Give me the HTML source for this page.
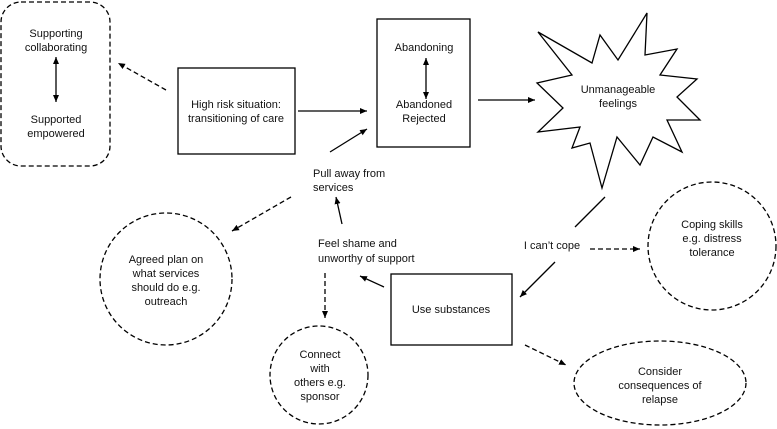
<!DOCTYPE html>
<html><head><style>
body{margin:0;background:#fff}
svg{display:block}
text{font-family:"Liberation Sans",sans-serif;font-size:11px;fill:#111;text-anchor:middle}
</style></head><body>
<svg width="777" height="429" viewBox="0 0 777 429">
<defs>
<marker id="a" markerWidth="8" markerHeight="8" refX="7" refY="4" orient="auto" markerUnits="userSpaceOnUse"><path d="M0,1 L7,4 L0,7Z" fill="#000"/></marker>
<marker id="b" markerWidth="8" markerHeight="8" refX="1" refY="4" orient="auto" markerUnits="userSpaceOnUse"><path d="M8,1 L1,4 L8,7Z" fill="#000"/></marker>
</defs>
<g fill="none" stroke="#000" stroke-width="1.3">
<rect x="1" y="2" width="109" height="164" rx="20" stroke-dasharray="5,3"/>
<rect x="178" y="68" width="117" height="86"/>
<rect x="377" y="19" width="93" height="128"/>
<rect x="391" y="274" width="121" height="71"/>
<polygon points="538,32 592,63 600,35 618,60 647,13 645,55 677,49 660,75 697,79 677,97 700,120 667,120 682,152 653,137 640,165 617,137 602,188 590,143 572,148 580,127 538,132 563,108 537,83 572,75" fill="#fff"/>
<circle cx="712" cy="246" r="64" stroke-dasharray="5,3"/>
<ellipse cx="660" cy="383" rx="86" ry="42" stroke-dasharray="5,3"/>
<circle cx="166" cy="279" r="66" stroke-dasharray="5,3"/>
<circle cx="319" cy="375" r="49" stroke-dasharray="5,3"/>
<line x1="56" y1="57" x2="56" y2="102" marker-start="url(#b)" marker-end="url(#a)"/>
<line x1="426" y1="58" x2="426" y2="99" marker-start="url(#b)" marker-end="url(#a)"/>
<line x1="166" y1="90" x2="118" y2="63" stroke-dasharray="5,3" marker-end="url(#a)"/>
<line x1="298" y1="111" x2="367" y2="111" marker-end="url(#a)"/>
<line x1="330" y1="152" x2="367" y2="129" marker-end="url(#a)"/>
<line x1="478" y1="100" x2="535" y2="100" marker-end="url(#a)"/>
<line x1="605" y1="197" x2="575" y2="227"/>
<line x1="555" y1="262" x2="520" y2="297" marker-end="url(#a)"/>
<line x1="590" y1="249" x2="640" y2="249" stroke-dasharray="5,3" marker-end="url(#a)"/>
<line x1="525" y1="345" x2="566" y2="365" stroke-dasharray="5,3" marker-end="url(#a)"/>
<line x1="384" y1="287" x2="360" y2="276" marker-end="url(#a)"/>
<line x1="342" y1="224" x2="336" y2="197" marker-end="url(#a)"/>
<line x1="291" y1="197" x2="232" y2="231" stroke-dasharray="5,3" marker-end="url(#a)"/>
<line x1="325" y1="273" x2="325" y2="318" stroke-dasharray="5,3" marker-end="url(#a)"/>
</g>
<text x="56" y="37">Supporting</text><text x="56" y="51">collaborating</text>
<text x="56" y="123">Supported</text><text x="56" y="137">empowered</text>
<text x="236" y="108">High risk situation:</text><text x="236" y="122">transitioning of care</text>
<text x="424" y="51">Abandoning</text>
<text x="424" y="108">Abandoned</text><text x="424" y="122">Rejected</text>
<text x="618" y="93">Unmanageable</text><text x="618" y="107">feelings</text>
<text x="313" y="177" style="text-anchor:start">Pull away from</text><text x="313" y="191" style="text-anchor:start">services</text>
<text x="318" y="247" style="text-anchor:start">Feel shame and</text><text x="318" y="262" style="text-anchor:start">unworthy of support</text>
<text x="552" y="249">I can’t cope</text>
<text x="712" y="228">Coping skills</text><text x="712" y="242">e.g. distress</text><text x="712" y="256">tolerance</text>
<text x="451" y="313">Use substances</text>
<text x="166" y="263">Agreed plan on</text><text x="166" y="277">what services</text><text x="166" y="291">should do e.g.</text><text x="166" y="305">outreach</text>
<text x="320" y="358">Connect</text><text x="320" y="372">with</text><text x="320" y="386">others e.g.</text><text x="320" y="400">sponsor</text>
<text x="660" y="375">Consider</text><text x="660" y="389">consequences of</text><text x="660" y="403">relapse</text>
</svg>
</body></html>
